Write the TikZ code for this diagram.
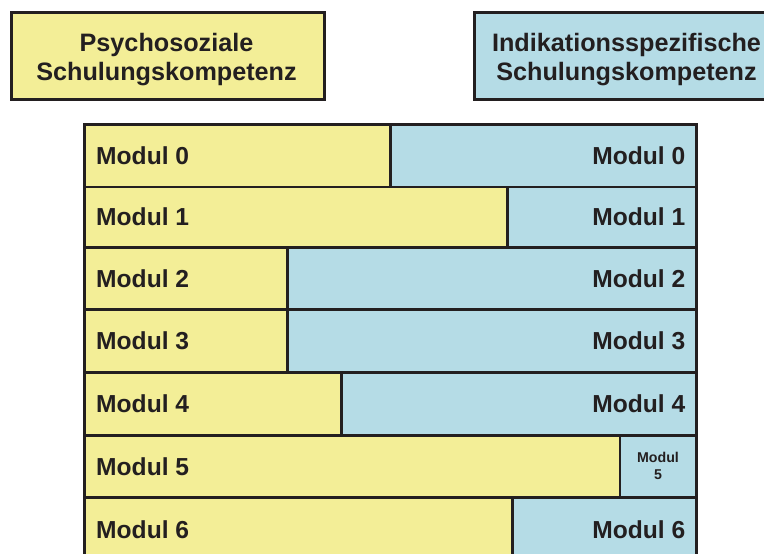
\documentclass[tikz,border=0pt]{standalone}
\usepackage{fontspec}
\setmainfont{Liberation Sans}
\definecolor{cyel}{HTML}{F3EE97}
\definecolor{cblu}{HTML}{B5DCE6}
\definecolor{cline}{HTML}{231F20}
\begin{document}
\begin{tikzpicture}[x=1pt,y=-1pt,
  cell/.style={draw=cline,line width=2.5pt,inner sep=0pt,anchor=north west},
  ycell/.style={cell,fill=cyel},
  bcell/.style={cell,fill=cblu},
  lbl/.style={font=\bfseries\fontsize{24.6}{28}\selectfont,text=cline,inner sep=0pt},
  title/.style={font=\bfseries\fontsize{25.2}{29.5}\selectfont,text=cline,align=center,inner sep=0pt},
  small/.style={font=\bfseries\fontsize{14.2}{17}\selectfont,text=cline,align=center,inner sep=0pt}]
\useasboundingbox (0,0) rectangle (764,554);
\begin{scope}
\clip (0,0) rectangle (764,554);
% title boxes
\node[ycell,minimum width=313pt,minimum height=87pt] (tl) at (10,11) {};
\node[title] (tlt) at (166.5,59.5) {Psychosoziale\\Schulungskompetenz};
\node[bcell,minimum width=320pt,minimum height=87pt] (tr) at (473,11) {};
\node[title] (trt) at (626.5,59.5) {Indikationsspezifische\\Schulungskompetenz};
% rows
\foreach \i/\ya/\yb/\sx in {0/123/185.5/389, 1/185.5/246/506, 2/246/308/286, 3/308/371/286, 4/371/434/340, 5/434/496/618.5, 6/496/560/511}{
  \pgfmathsetmacro{\h}{\yb-\ya}
  \pgfmathsetmacro{\wl}{\sx-83}
  \pgfmathsetmacro{\wr}{695-\sx}
  \node[ycell,minimum width=\wl pt,minimum height=\h pt] (y\i) at (83,\ya) {};
  \node[bcell,minimum width=\wr pt,minimum height=\h pt] (b\i) at (\sx,\ya) {};
  \node[lbl,anchor=west] (ly\i) at ([xshift=13pt]y\i.west) {Modul \i};
}
\foreach \i in {0,1,2,3,4,6}{
  \node[lbl,anchor=east] (lb\i) at ([xshift=-12pt]b\i.east) {Modul \i};
}
\node[small] (lb5) at (b5.center) {Modul\\5};
\end{scope}
\end{tikzpicture}
\end{document}
